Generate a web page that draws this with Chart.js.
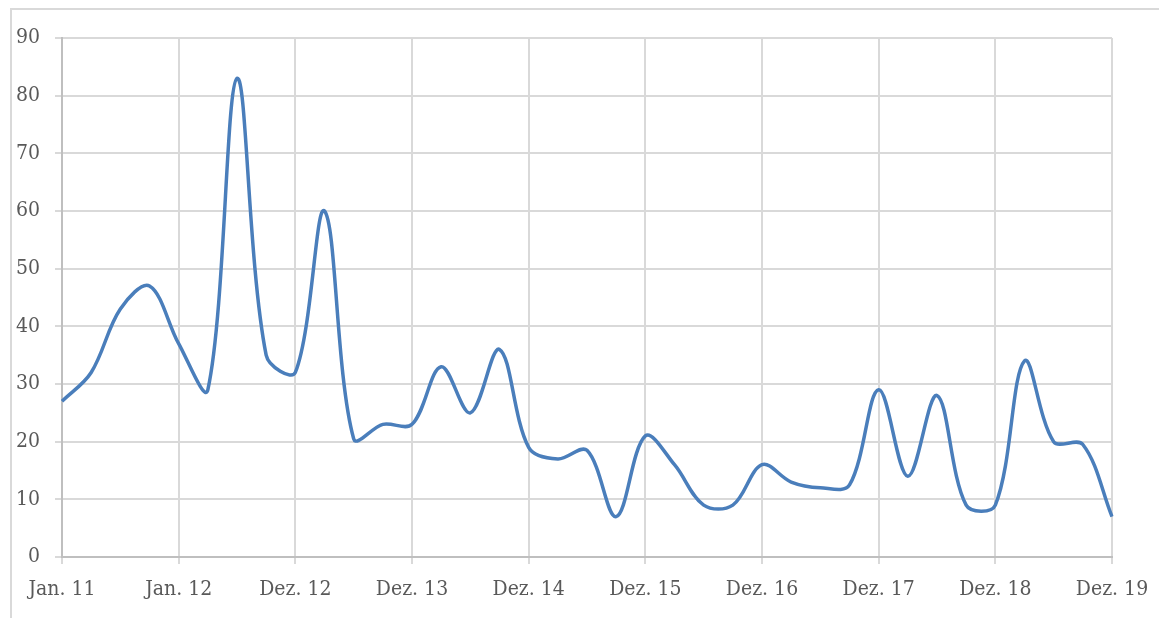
<!DOCTYPE html>
<html>
<head>
<meta charset="utf-8">
<script src="https://cdn.jsdelivr.net/npm/chart.js@4/dist/chart.umd.min.js"></script>
<style>
    html, body { margin: 0; padding: 0; background: #ffffff; }
    #frame {
        position: absolute; left: 10px; top: 8px; width: 1160px; height: 620px;
        border-left: 2px solid #d9d9d9; border-top: 2px solid #d9d9d9;
    }
    #wrap { position: absolute; left: 0; top: 0; width: 1159px; height: 618px; }
</style>
</head>
<body>
<div id="frame"></div>
<div id="wrap"><canvas id="lineChart" width="1159" height="618"></canvas></div>
<script>
// Values, one point per quarter
const values = [
    27, 32, 43, 47, 37, 29, 83, 35, 32, 60,
    20.5, 23, 23, 33, 25, 36, 19, 17, 18.5, 7,
    21, 16, 9, 9, 16, 13, 12, 12.5, 29, 14,
    28, 9, 9, 34, 20, 19.5, 7
];
// Shown every 4th point
const tickLabels = ['Jan. 11', 'Jan. 12', 'Dez. 12', 'Dez. 13', 'Dez. 14',
    'Dez. 15', 'Dez. 16', 'Dez. 17', 'Dez. 18', 'Dez. 19'];
const yTicks = [0, 10, 20, 30, 40, 50, 60, 70, 80, 90];

const labels = values.map((v, i) => (i % 4 === 0 ? tickLabels[i / 4] : ''));

const gridColor = '#d9d9d9';
const axisColor = '#bfbfbf';
const textColor = '#595959';
const font = { family: '"DejaVu Serif Condensed", "DejaVu Serif", serif', size: 21 };

const ctx = document.getElementById('lineChart');
new Chart(ctx, {
    type: 'line',
    data: {
        labels: labels,
        datasets: [{
            data: values,
            borderColor: '#4a7ebb',
            borderWidth: 3.5,
            pointRadius: 0,
            tension: 0.35,
            fill: false
        }]
    },
    options: {
        responsive: false,
        animation: false,
        layout: { padding: { left: 15, top: 38, right: 47, bottom: 0 } },
        plugins: {
            legend: { display: false },
            tooltip: { enabled: false }
        },
        scales: {
            x: {
                type: 'category',
                offset: false,
                afterFit: axis => {
                    axis.paddingLeft = 0;
                    axis.paddingRight = 0;
                    axis.height = 61;
                },
                grid: {
                    color: c => (c.index % 4 === 0 ? gridColor : 'rgba(0,0,0,0)'),
                    lineWidth: 2,
                    tickLength: 7
                },
                border: { color: axisColor, width: 2 },
                ticks: {
                    autoSkip: false,
                    maxRotation: 0,
                    padding: 13,
                    color: textColor,
                    font: font,
                    callback: (v, i) => labels[i]
                }
            },
            y: {
                min: yTicks[0],
                max: yTicks[yTicks.length - 1],
                afterBuildTicks: axis => { axis.ticks = yTicks.map(v => ({ value: v })); },
                afterFit: axis => { axis.width = 47; },
                grid: { color: gridColor, lineWidth: 2, tickLength: 7 },
                border: { color: axisColor, width: 2 },
                ticks: { padding: 15, color: textColor, font: font }
            }
        }
    }
});
</script>
</body>
</html>
